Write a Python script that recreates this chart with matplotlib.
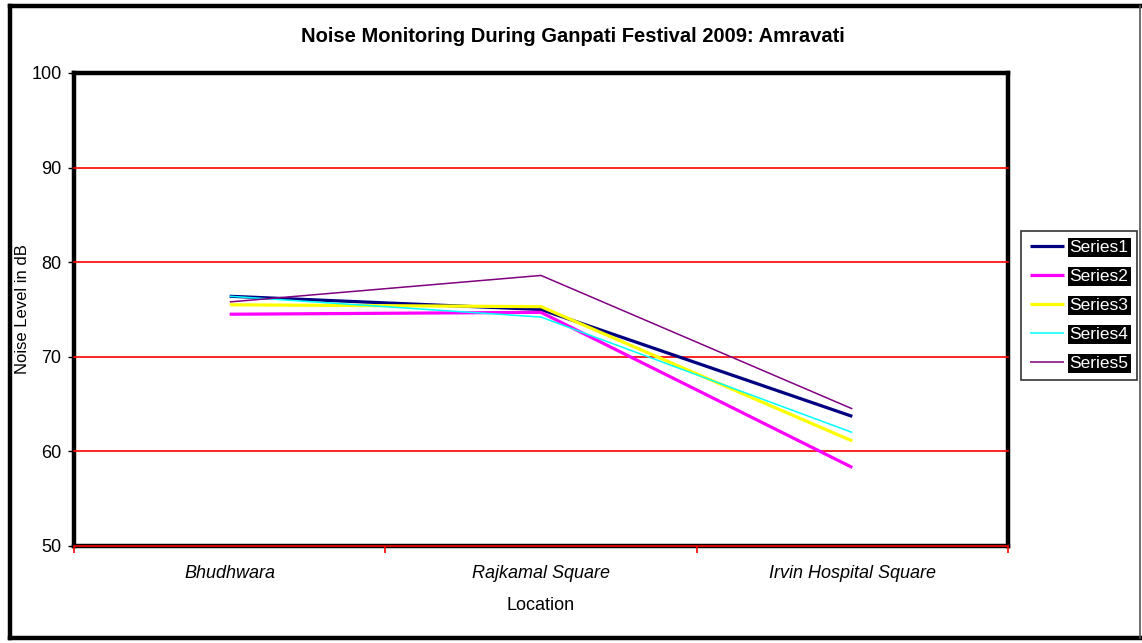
import matplotlib
matplotlib.use("Agg")
import matplotlib.pyplot as plt
from matplotlib.lines import Line2D

plt.rcParams['font.family'] = ['Liberation Sans', 'DejaVu Sans']

locations = ["Bhudhwara", "Rajkamal Square", "Irvin Hospital Square"]
series1 = [76.4, 75.0, 63.7]
series2 = [74.5, 74.7, 58.3]
series3 = [75.5, 75.3, 61.1]
series4 = [76.4, 74.2, 62.0]
series5 = [75.8, 78.6, 64.5]
series_names = ["Series1", "Series2", "Series3", "Series4", "Series5"]
series_values = [series1, series2, series3, series4, series5]
colors = ["#000080", "#FF00FF", "#FFFF00", "#00FFFF", "#800080"]
widths = [2.3, 2.3, 2.3, 1.1, 1.1]
yticks = [50, 60, 70, 80, 90, 100]

W, H = 1142, 643
fig = plt.figure(figsize=(W / 100, H / 100), dpi=100)
fig.patch.set_facecolor("white")

def fx(px):
    return px / W

def fy(py):
    return 1 - py / H

# outer chart frame
for xs, ys, lw, col in [
    ([10, 10], [6, 638], 3.2, "black"),
    ([10, 1140], [6, 6], 3.2, "black"),
    ([10, 1140], [638, 638], 3.2, "black"),
    ([1140, 1140], [6, 638], 1.2, "#555555"),
]:
    fig.add_artist(Line2D([fx(v) for v in xs], [fy(v) for v in ys],
                          transform=fig.transFigure, color=col, linewidth=lw,
                          solid_capstyle="projecting"))

ax = fig.add_axes([fx(74), fy(546), (1008 - 74) / W, (546 - 73) / H])
x = list(range(len(locations)))
for name, vals, c, lw in zip(series_names, series_values, colors, widths):
    ax.plot(x, vals, color=c, linewidth=lw, label=name, zorder=3,
            solid_capstyle="butt")

ax.set_xlim(-0.5, len(locations) - 0.5)
ax.set_ylim(50, 100)
ax.set_yticks(yticks)
ax.set_yticklabels([str(v) for v in yticks], fontsize=13)
for v in yticks[:-1]:
    ax.axhline(v, color="red", linewidth=1.2, zorder=2, clip_on=False)

ax.set_xticks(x)
ax.set_xticklabels(locations, fontsize=13, style="italic")
ax.tick_params(axis="x", length=0, pad=14)
ax.set_xticks([i - 0.5 for i in range(len(locations) + 1)], minor=True)
ax.tick_params(axis="x", which="minor", length=5, color="red", width=1.2,
               direction="out")
ax.tick_params(axis="y", length=4, width=1, color="black", pad=5)

for s in ["left", "top", "right", "bottom"]:
    ax.spines[s].set_linewidth(3.2)
    ax.spines[s].set_color("black")
    ax.spines[s].set_zorder(1)

fig.text(fx(23), fy(309), "Noise Level in dB", rotation=90, fontsize=12,
         ha="center", va="center")
fig.text(fx(541), fy(605), "Location", fontsize=13, ha="center", va="center")
fig.text(fx(573), fy(36), "Noise Monitoring During Ganpati Festival 2009: Amravati",
         fontsize=14.5, fontweight="bold", ha="center", va="center")

leg = fig.legend(loc="upper left", bbox_to_anchor=(fx(1021), fy(231)),
                 frameon=True, fancybox=False, edgecolor="black",
                 fontsize=12.5, handlelength=2.0, handletextpad=0.3,
                 labelspacing=0.8, borderpad=0.5, borderaxespad=0)
leg.get_frame().set_linewidth(1.2)
for t in leg.get_texts():
    t.set_color("white")
    t.set_bbox(dict(facecolor="black", edgecolor="none", pad=1.5))

fig.savefig("out.png", dpi=100)
